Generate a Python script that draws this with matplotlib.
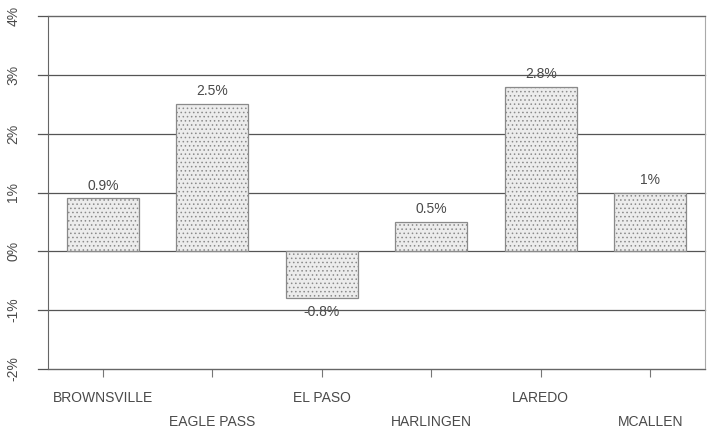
import numpy as np
import matplotlib
matplotlib.use('Agg')
from matplotlib import pyplot as plt

# Chart data
cities = ['BROWNSVILLE', 'EAGLE PASS', 'EL PASO', 'HARLINGEN', 'LAREDO', 'MCALLEN']
growth = [0.9, 2.5, -0.8, 0.5, 2.8, 1.0]
bar_labels = ['0.9%', '2.5%', '-0.8%', '0.5%', '2.8%', '1%']
y_ticks = [-2, -1, 0, 1, 2, 3, 4]
y_tick_labels = ['-2%', '-1%', '0%', '1%', '2%', '3%', '4%']

text_color = '#4a4a4a'
line_color = '#555555'

plt.rcParams['font.family'] = ['Liberation Sans', 'DejaVu Sans']
plt.rcParams['hatch.color'] = '#d4d4d4'
plt.rcParams['hatch.linewidth'] = 0.6

fig = plt.figure(figsize=(7.07, 4.34), dpi=100)
ax = fig.add_axes([48 / 707, 65 / 434, 657 / 707, 353 / 434])

x = np.arange(len(cities))

# gridlines, extended a bit to the left of the axis
for t in y_ticks:
    ax.axhline(t, xmin=-0.015, xmax=1, color=line_color, lw=0.9, clip_on=False, zorder=1)

ax.bar(x, growth, width=0.66, color='#ececec', edgecolor='#8a8a8a', linewidth=0.9,
       hatch='....', zorder=3)

for xi, v, lab in zip(x, growth, bar_labels):
    if v >= 0:
        ax.text(xi, v + 0.1, lab, ha='center', va='bottom', fontsize=10, color=text_color)
    else:
        ax.text(xi, v - 0.12, lab, ha='center', va='top', fontsize=10, color=text_color)

ax.set_xlim(-0.5, 5.5)
ax.set_ylim(-2, 4)
ax.set_yticks(y_ticks)
ax.set_yticklabels(y_tick_labels, rotation=90, va='center', fontsize=10, color=text_color)
ax.tick_params(axis='y', length=0, pad=20)

ax.set_xticks(x)
ax.set_xticklabels([])
ax.tick_params(axis='x', direction='out', length=6, color='#777777', width=0.8)

# staggered category labels
for i, name in enumerate(cities):
    yoff = -2.49 if i % 2 == 0 else -2.9
    ax.text(i, yoff, name, ha='center', va='center', fontsize=10, color=text_color,
            clip_on=False)

for s in ['left', 'right', 'top', 'bottom']:
    ax.spines[s].set_color('#666666')
    ax.spines[s].set_linewidth(0.8)
ax.spines['right'].set_color('#aaaaaa')

fig.savefig('out.png', dpi=100)
